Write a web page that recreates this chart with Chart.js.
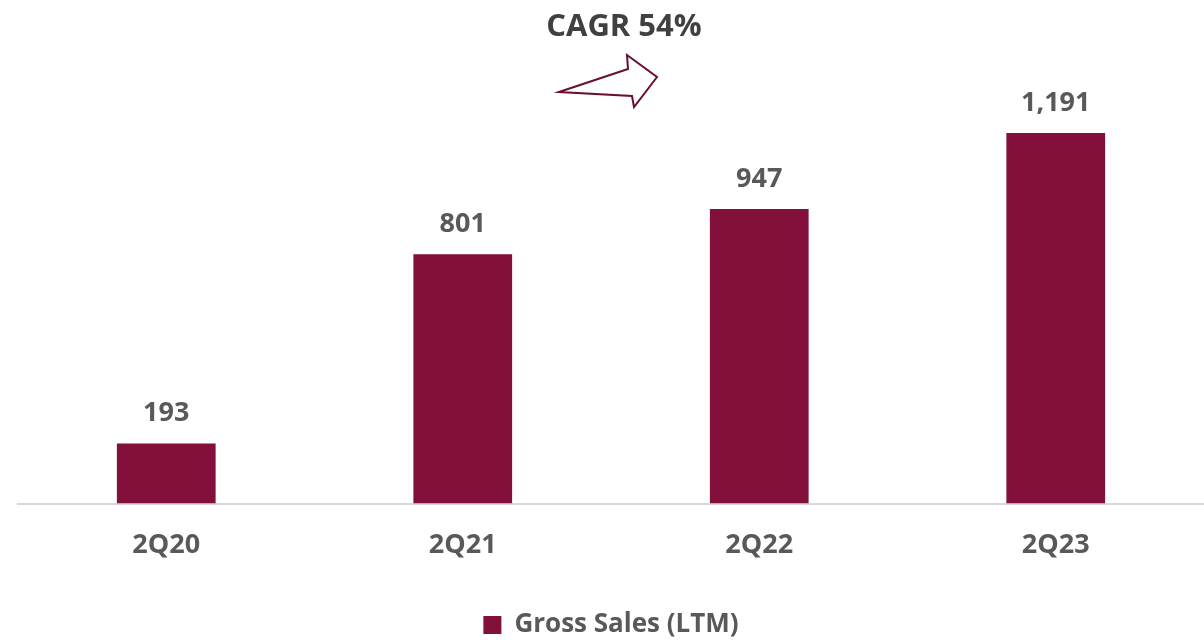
<!DOCTYPE html>
<html>
<head>
<meta charset="utf-8">
<script src="https://cdn.jsdelivr.net/npm/chart.js@4.4.0/dist/chart.umd.min.js"></script>
<style>
  html, body { margin: 0; padding: 0; background: #fff; }
  #wrap { width: 1204px; height: 642px; }
</style>
</head>
<body>
<div id="wrap"><canvas id="salesChart" width="1204" height="642"></canvas></div>
<script>
const quarters = ["2Q20", "2Q21", "2Q22", "2Q23"];
const grossSales = [193, 801, 947, 1191];
const seriesName = "Gross Sales (LTM)";
const cagrText = "CAGR 54%";

const BAR_COLOR = "#82103A";
const TEXT_COLOR = "#595959";
const FONT = "'Open Sans', sans-serif";

// value labels above each bar
const barLabels = {
    id: "barLabels",
    afterDatasetsDraw(chart) {
        const ctx = chart.ctx;
        const meta = chart.getDatasetMeta(0);
        ctx.save();
        ctx.font = "bold 27px " + FONT;
        ctx.fillStyle = TEXT_COLOR;
        ctx.textAlign = "center";
        ctx.textBaseline = "middle";
        meta.data.forEach((bar, i) => {
            ctx.fillText(grossSales[i].toLocaleString("en-US"), bar.x, bar.y - 30);
        });
        ctx.restore();
    }
};

// CAGR note with the outlined arrow
const cagrNote = {
    id: "cagrNote",
    afterDraw(chart) {
        const ctx = chart.ctx;
        ctx.save();
        ctx.font = "bold 31px " + FONT;
        ctx.fillStyle = "#404040";
        ctx.textAlign = "center";
        ctx.textBaseline = "middle";
        ctx.fillText(cagrText, 624, 27);

        ctx.beginPath();
        ctx.moveTo(559, 92);
        ctx.lineTo(628, 69);
        ctx.lineTo(627, 55);
        ctx.lineTo(657, 77);
        ctx.lineTo(634, 107);
        ctx.lineTo(632, 96);
        ctx.closePath();
        ctx.fillStyle = "#fff";
        ctx.fill();
        ctx.strokeStyle = "#6B0F2E";
        ctx.lineWidth = 2;
        ctx.lineJoin = "miter";
        ctx.stroke();
        ctx.restore();
    }
};

new Chart(document.getElementById("salesChart"), {
    type: "bar",
    data: {
        labels: quarters,
        datasets: [{
            label: seriesName,
            data: grossSales,
            backgroundColor: BAR_COLOR,
            categoryPercentage: 1,
            barPercentage: 0.333
        }]
    },
    options: {
        responsive: false,
        animation: false,
        layout: { padding: { top: 68, left: 18, right: 0, bottom: -6 } },
        plugins: {
            legend: {
                position: "bottom",
                labels: {
                    boxWidth: 18,
                    boxHeight: 18,
                    padding: 24,
                    color: TEXT_COLOR,
                    font: { family: FONT, size: 26, weight: "bold" }
                }
            },
            tooltip: { enabled: false }
        },
        scales: {
            x: {
                grid: { display: false, drawTicks: false },
                border: { color: "#D9D9D9", width: 2 },
                ticks: {
                    padding: 26,
                    color: TEXT_COLOR,
                    font: { family: FONT, size: 27, weight: "bold" }
                }
            },
            y: {
                display: false,
                min: 0,
                max: 1400
            }
        }
    },
    plugins: [barLabels, cagrNote]
});
</script>
</body>
</html>
